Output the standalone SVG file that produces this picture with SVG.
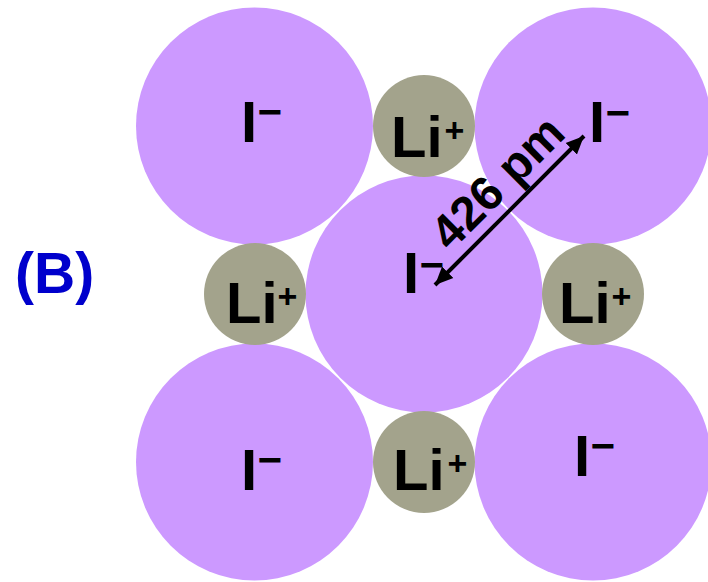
<svg xmlns="http://www.w3.org/2000/svg" width="708" height="582" viewBox="0 0 708 582">
<defs>
<style>
.iod{fill:#CC99FF}
.li{fill:#A3A38C}
.lbl{font-family:"Liberation Sans",Arial,sans-serif;font-weight:bold;fill:#000}
.big{font-size:58px}
.sup{font-size:42px}
.plus{font-size:34px}
.tag{font-family:"Liberation Sans",Arial,sans-serif;font-weight:bold;font-size:57px;fill:#0000CC}
</style>
<marker id="ah" markerUnits="userSpaceOnUse" markerWidth="20" markerHeight="18" refX="18" refY="8" orient="auto-start-reverse" viewBox="0 0 20 16">
<path d="M0,0 L18,8 L0,16 Z" fill="#000"/>
</marker>
</defs>
<rect width="708" height="582" fill="#fff"/>
<text class="tag" x="15" y="293">(B)</text>
<g id="iodide-tl"><circle class="iod" cx="254.5" cy="126" r="118.5"/><text class="lbl big" x="241" y="142">I<tspan class="sup" x="257.5" dy="-16">−</tspan></text></g>
<g id="iodide-tr"><circle class="iod" cx="593" cy="126" r="118.5"/><text class="lbl big" x="589" y="142">I<tspan class="sup" x="605.5" dy="-15">−</tspan></text></g>
<g id="iodide-bl"><circle class="iod" cx="254.5" cy="462" r="118.5"/><text class="lbl big" x="241" y="490">I<tspan class="sup" x="257.5" dy="-16">−</tspan></text></g>
<g id="iodide-br"><circle class="iod" cx="593" cy="462" r="118.5"/><text class="lbl big" x="574" y="476">I<tspan class="sup" x="590.5" dy="-16">−</tspan></text></g>
<g id="iodide-c"><circle class="iod" cx="424" cy="294" r="118.5"/><text class="lbl big" x="403" y="293">I<tspan class="sup" x="419.5" dy="-14">−</tspan></text></g>
<g id="li-top"><circle class="li" cx="424" cy="126" r="51"/><text class="lbl big" x="391" y="157">Li<tspan class="plus" x="444.5" dy="-15">+</tspan></text></g>
<g id="li-left"><circle class="li" cx="255" cy="294" r="51"/><text class="lbl big" x="226" y="323">Li<tspan class="plus" x="277.5" dy="-15">+</tspan></text></g>
<g id="li-right"><circle class="li" cx="593" cy="294" r="51"/><text class="lbl big" x="559" y="323">Li<tspan class="plus" x="611.5" dy="-15">+</tspan></text></g>
<g id="li-bottom"><circle class="li" cx="424" cy="462" r="51"/><text class="lbl big" x="393" y="490">Li<tspan class="plus" x="447.5" dy="-15">+</tspan></text></g>
<g id="connectors">
<line x1="435" y1="285" x2="584" y2="136" stroke="#000" stroke-width="4" marker-start="url(#ah)" marker-end="url(#ah)"/>
<text class="lbl" font-size="48" text-anchor="middle" transform="translate(509,194) rotate(-45)">426 pm</text>
</g>
</svg>
